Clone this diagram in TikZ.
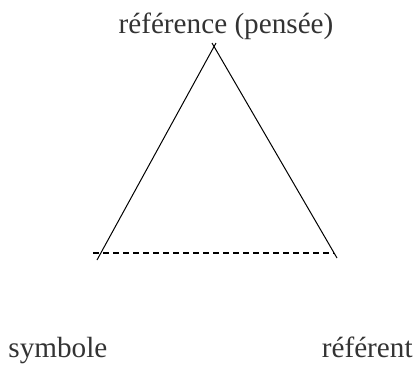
\documentclass[tikz,border=0pt]{standalone}
\usepackage{fontspec}
\setmainfont{Liberation Serif}
\begin{document}
\begin{tikzpicture}[x=0.5pt,y=-0.5pt,
  lbl/.style={font=\fontsize{14.6}{17}\selectfont,text=black!80,inner sep=0pt}]
  \useasboundingbox (0,0) rectangle (417,365);
  \node[lbl,anchor=base] (pensee) at (226,33) {référence (pensée)};
  \node[lbl,anchor=base west] (symb) at (8,357) {symbole};
  \node[lbl,anchor=base east] (refr) at (413,357) {référent};
  \coordinate (topl) at (216,43);
  \coordinate (topr) at (212,43);
  \coordinate (botl) at (97,260);
  \coordinate (botr) at (337,258);
  \coordinate (dashl) at (93,253);
  \coordinate (dashr) at (334,253);
  \draw[line width=0.5pt] (botl) -- (topl);
  \draw[line width=0.5pt] (botr) -- (topr);
  \draw[line width=1.2pt,dash pattern=on 3pt off 2pt] (dashl) -- (dashr);
\end{tikzpicture}
\end{document}
